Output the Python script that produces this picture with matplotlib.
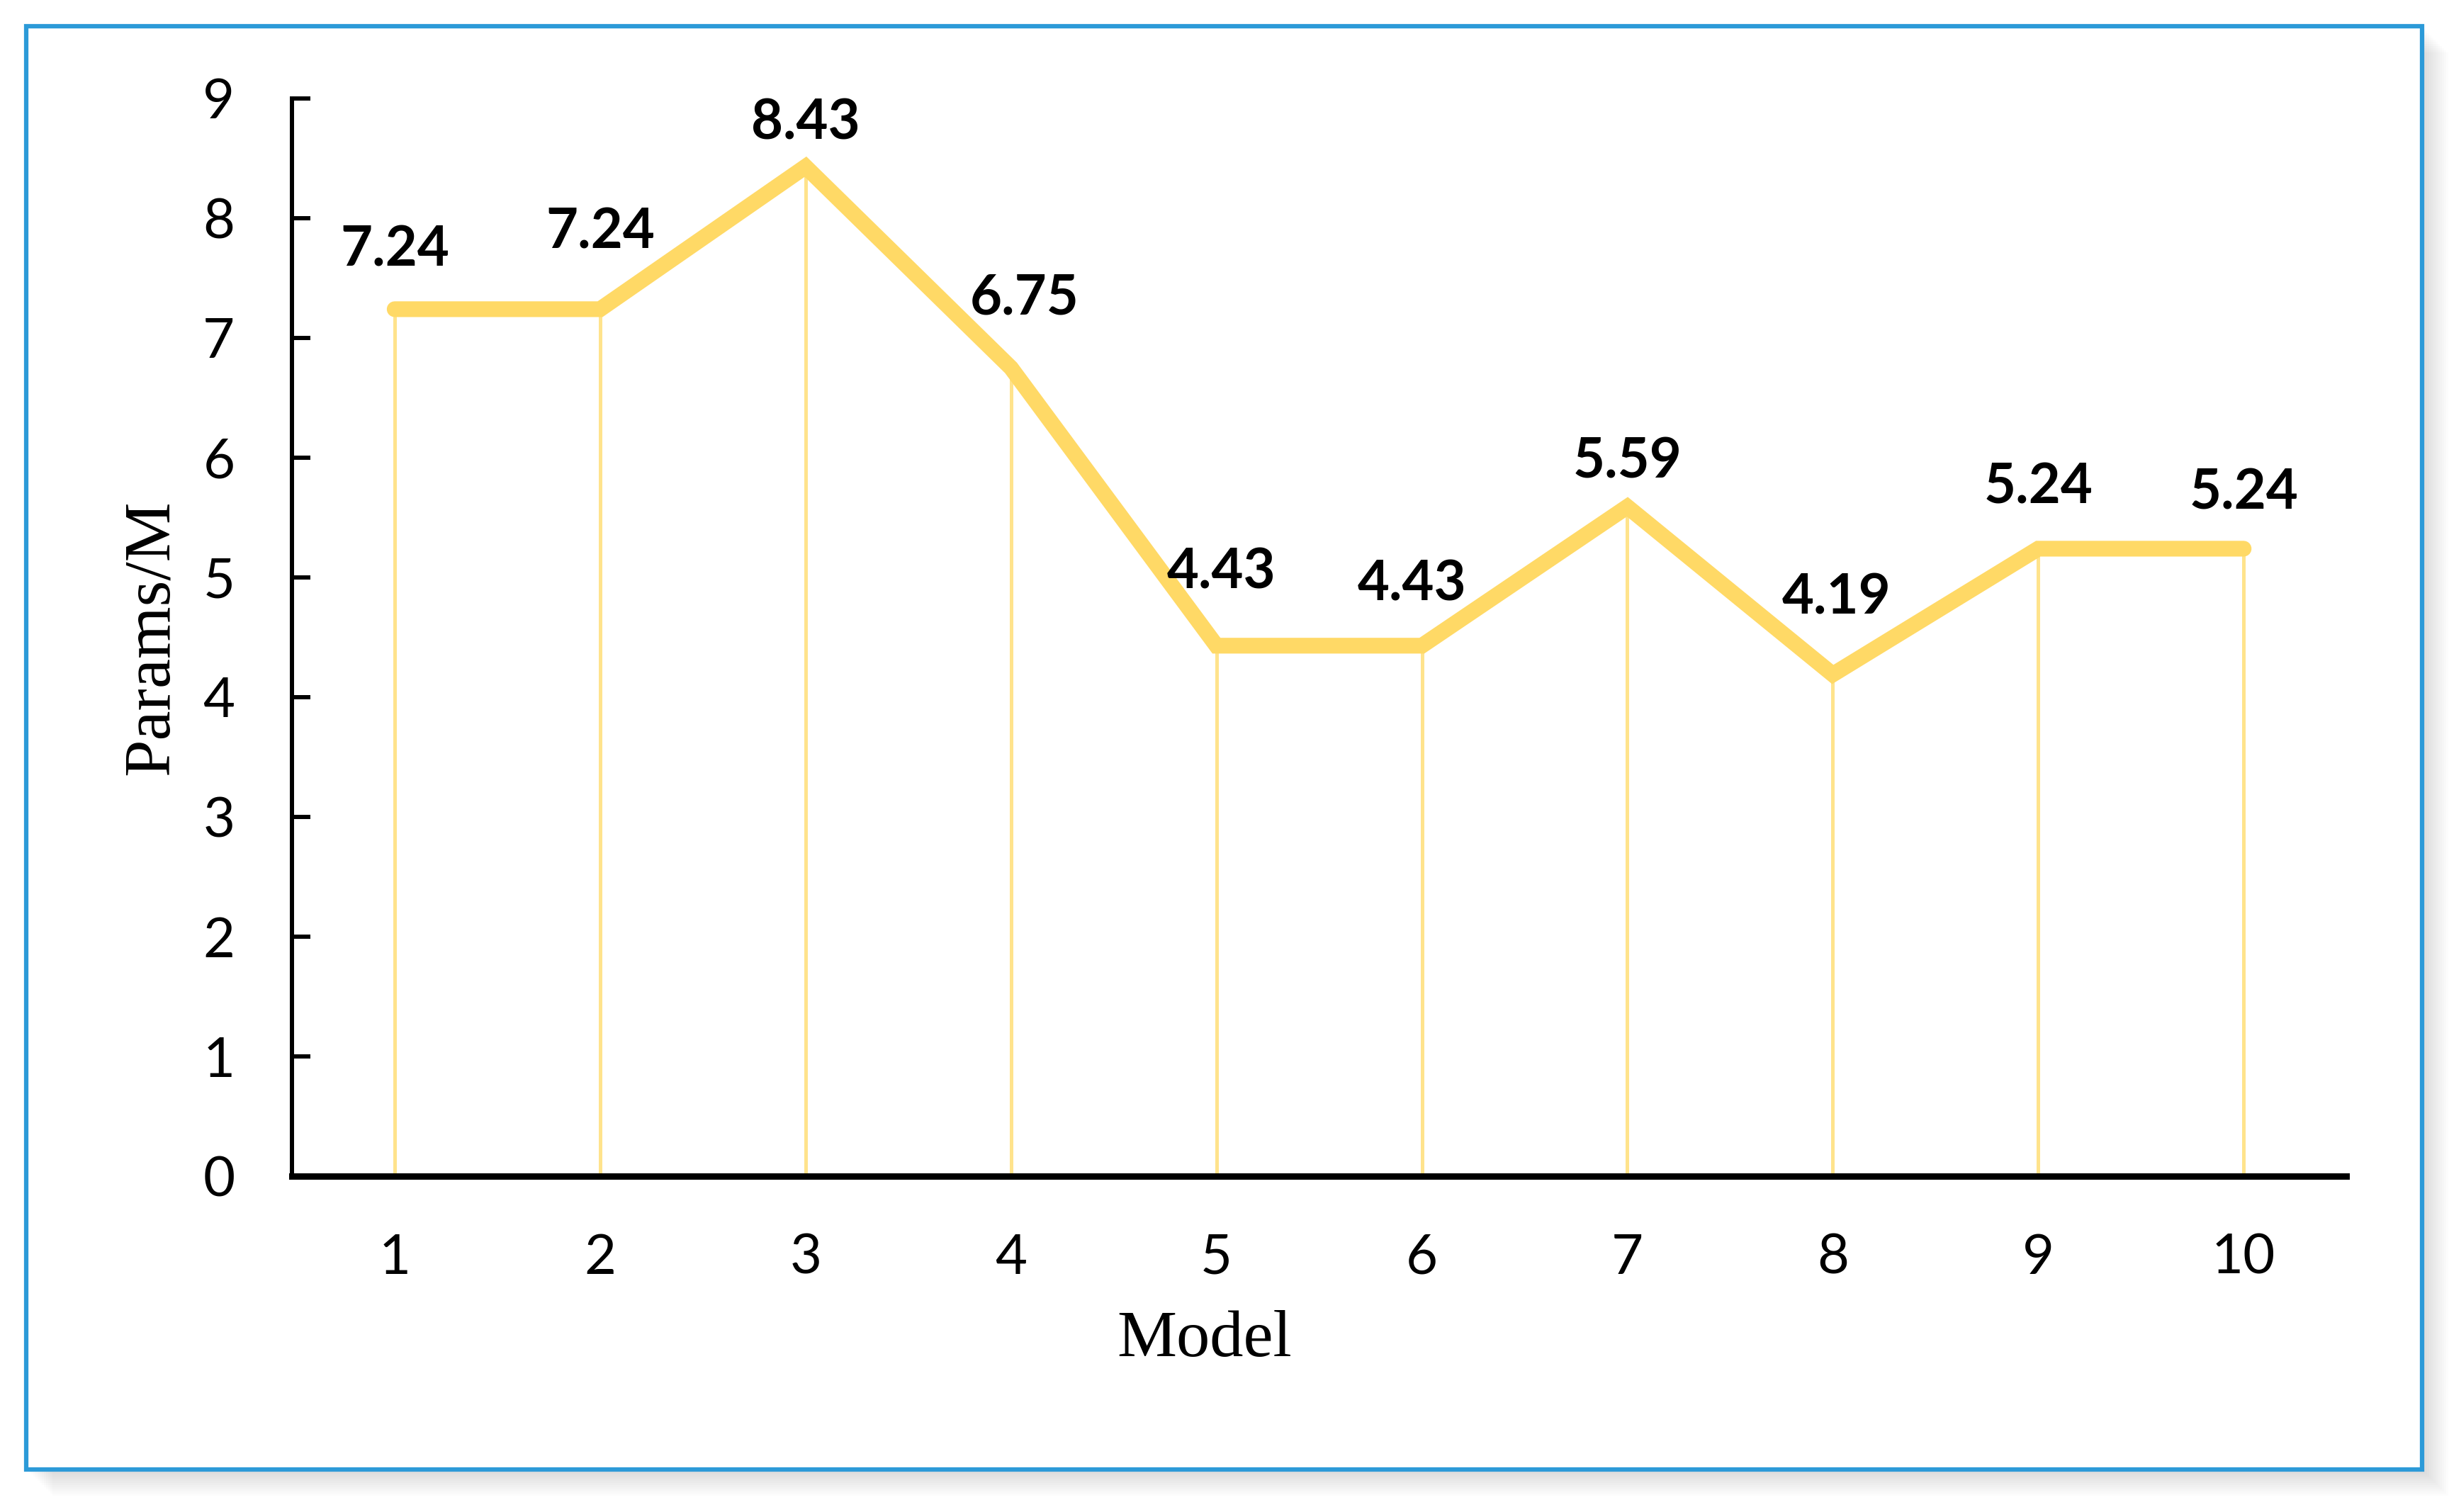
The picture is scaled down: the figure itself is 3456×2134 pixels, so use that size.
import numpy as np
import matplotlib.pyplot as plt
from matplotlib.patches import Rectangle

# data
models = [1, 2, 3, 4, 5, 6, 7, 8, 9, 10]
params = [7.24, 7.24, 8.43, 6.75, 4.43, 4.43, 5.59, 4.19, 5.24, 5.24]
value_labels = ['7.24', '7.24', '8.43', '6.75', '4.43', '4.43', '5.59', '4.19', '5.24', '5.24']
yticks = [0, 1, 2, 3, 4, 5, 6, 7, 8, 9]

# label nudges (points), as placed in the original
label_dx = [0, 0, 0, 14, 5, -10, 0, 4, 0, 0]
label_dy = [60, 78, 44, 70, 74, 62, 45, 77, 62, 56]

line_color = '#FFD966'
drop_color = '#FFE38C'
frame_color = '#2C9AD8'

fig = plt.figure(figsize=(34.56, 21.34), dpi=100)
fig.patch.set_facecolor('white')

# soft shadow + blue frame around the chart
W, H = 3456, 2134
x0, y0, x1, y1 = 37, 37, 3418, 2074
for i in range(12):
    off = 4 + i * 3
    fig.patches.append(Rectangle(((x0 + off) / W, (H - y1 - off) / H), (x1 - x0) / W, (y1 - y0) / H,
                                 transform=fig.transFigure, facecolor='black', edgecolor='none',
                                 alpha=0.012, zorder=0))
fig.patches.append(Rectangle((x0 / W, (H - y1) / H), (x1 - x0) / W, (y1 - y0) / H,
                             transform=fig.transFigure, facecolor='white', edgecolor=frame_color,
                             linewidth=4.5, zorder=1))

ax = fig.add_axes([0.1192, 0.2221, 0.8389, 0.7128])
ax.set_facecolor('none')
ax.set_zorder(2)

# drop lines from each point to the axis
ax.vlines(models, 0, params, colors=drop_color, linewidth=3.6, zorder=2)
ax.plot(models, params, color=line_color, linewidth=16, solid_capstyle='round',
        solid_joinstyle='miter', zorder=3)

for x, y, s, dx, dy in zip(models, params, value_labels, label_dx, label_dy):
    ax.annotate(s, (x, y), xytext=(dx, dy), textcoords='offset points', ha='center', va='center',
                fontsize=56, fontweight='bold', family='Lato', color='black', zorder=4)

ax.set_xlim(0.5, 10.5)
ax.set_ylim(0, 9)
ax.set_xticks(models)
ax.set_yticks(yticks)

for side in ['top', 'right']:
    ax.spines[side].set_visible(False)
ax.spines['left'].set_linewidth(4.3)
ax.spines['bottom'].set_linewidth(6.5)
ax.spines['left'].set_capstyle('projecting')

ax.tick_params(axis='y', direction='in', length=19, width=4.3, pad=58, labelsize=56)
ax.tick_params(axis='x', length=0, pad=58, labelsize=56)
for lab in ax.get_xticklabels() + ax.get_yticklabels():
    lab.set_family('Lato')

ax.set_xlabel('Model', fontsize=68, family='Liberation Serif')
ax.xaxis.set_label_coords(0.444, -0.152)
ax.xaxis.label.set_va('center')
ax.set_ylabel('Params/M', fontsize=68, family='Liberation Serif')
ax.yaxis.set_label_coords(-0.0683, 0.5)
ax.yaxis.label.set_va('center')

fig.savefig('out.png', dpi=100)
